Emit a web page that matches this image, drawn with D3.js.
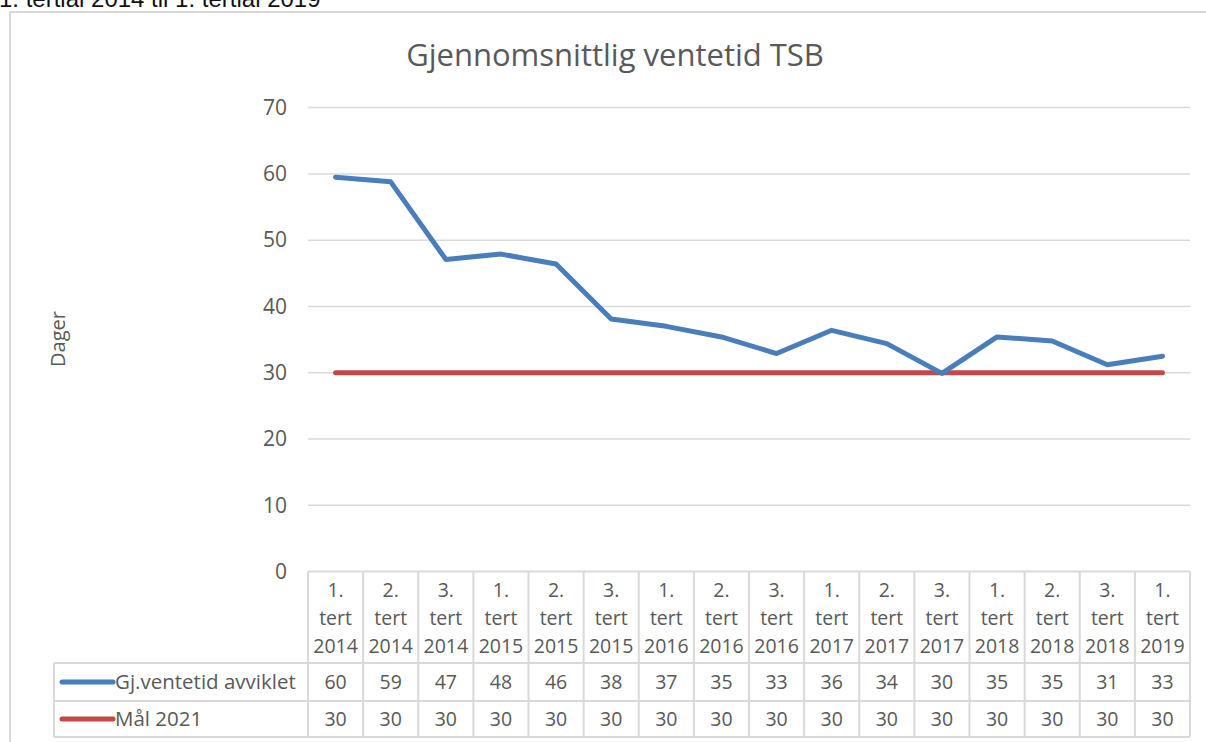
<!DOCTYPE html>
<html>
<head>
<meta charset="utf-8">
<script src="https://cdn.jsdelivr.net/npm/d3@7"></script>
<style>
  body { margin: 0; background: #fff; }
  svg { display: block; }
</style>
</head>
<body>
<script>
"use strict";

const terms = ["1.", "2.", "3.", "1.", "2.", "3.", "1.", "2.", "3.", "1.", "2.", "3.", "1.", "2.", "3.", "1."];
const years = ["2014", "2014", "2014", "2015", "2015", "2015", "2016", "2016", "2016", "2017", "2017", "2017", "2018", "2018", "2018", "2019"];
const ventetid = [59.5, 58.8, 47.1, 47.9, 46.4, 38.1, 37.0, 35.4, 32.9, 36.4, 34.4, 29.9, 35.4, 34.8, 31.2, 32.5];
const maal = [30, 30, 30, 30, 30, 30, 30, 30, 30, 30, 30, 30, 30, 30, 30, 30];
const yTicks = [0, 10, 20, 30, 40, 50, 60, 70];

const series = [
  { name: "Gj.ventetid avviklet", values: ventetid, color: "#4a7ebb" },
  { name: "Mål 2021", values: maal, color: "#be4b48" }
];

const W = 1206, H = 742;
const font = "'Open Sans', sans-serif";
const grey = "#595959";

const svg = d3.select("body").append("svg")
  .attr("width", W)
  .attr("height", H);

// caption, cut off at the top as in the source screenshot
svg.append("text")
  .attr("x", -1).attr("y", 7)
  .attr("font-family", "'Liberation Sans', Arial, sans-serif")
  .attr("font-size", 24)
  .attr("fill", "#111")
  .text("1. tertial 2014 til 1. tertial 2019");

// chart border
svg.append("rect")
  .attr("x", 10).attr("y", 12)
  .attr("width", W).attr("height", H)
  .attr("fill", "#fff")
  .attr("stroke", "#d9d9d9")
  .attr("stroke-width", 2);

svg.append("text")
  .attr("x", 615).attr("y", 66)
  .attr("text-anchor", "middle")
  .attr("font-family", font)
  .attr("font-size", 31)
  .attr("fill", grey)
  .text("Gjennomsnittlig ventetid TSB");

const plotL = 308, plotR = 1190, plotT = 107.6, plotB = 571.6;

const x = d3.scaleBand()
  .domain(d3.range(terms.length))
  .range([plotL, plotR]);

const y = d3.scaleLinear()
  .domain([0, 70])
  .range([plotB, plotT]);

// gridlines
svg.append("g")
  .selectAll("line")
  .data(yTicks.filter(d => d > 0))
  .join("line")
  .attr("x1", plotL).attr("x2", plotR)
  .attr("y1", d => y(d)).attr("y2", d => y(d))
  .attr("stroke", "#d9d9d9")
  .attr("stroke-width", 1.5);

const yAxis = d3.axisLeft(y).tickValues(yTicks).tickSize(0).tickPadding(21);
const ga = svg.append("g")
  .attr("transform", `translate(${plotL},0)`)
  .call(yAxis);
ga.select(".domain").remove();
ga.selectAll("text")
  .attr("font-family", font)
  .attr("font-size", 21)
  .attr("fill", grey);

svg.append("text")
  .attr("transform", "translate(65,339) rotate(-90)")
  .attr("text-anchor", "middle")
  .attr("font-family", font)
  .attr("font-size", 20)
  .attr("fill", grey)
  .text("Dager");

// lines
const line = d3.line()
  .x((d, i) => x(i) + x.bandwidth() / 2)
  .y(d => y(d));

svg.append("g")
  .selectAll("path")
  .data(series.slice().reverse())
  .join("path")
  .attr("d", s => line(s.values))
  .attr("fill", "none")
  .attr("stroke", s => s.color)
  .attr("stroke-width", 5)
  .attr("stroke-linecap", "round")
  .attr("stroke-linejoin", "round");

// data table
const rowTop = plotB, headBottom = 663, row1Bottom = 701, row2Bottom = 737;
const legendLeft = 54;
const tbl = svg.append("g");
const border = "#d9d9d9";

function hline(x1, x2, yy) {
  tbl.append("line").attr("x1", x1).attr("x2", x2).attr("y1", yy).attr("y2", yy)
    .attr("stroke", border).attr("stroke-width", 2);
}
function vline(xx, y1, y2) {
  tbl.append("line").attr("x1", xx).attr("x2", xx).attr("y1", y1).attr("y2", y2)
    .attr("stroke", border).attr("stroke-width", 2);
}

hline(plotL, plotR, rowTop);
hline(legendLeft, plotR, headBottom);
hline(legendLeft, plotR, row1Bottom);
hline(legendLeft, plotR, row2Bottom);
vline(legendLeft, headBottom, row2Bottom);
d3.range(terms.length + 1).forEach(i => {
  const xx = i < terms.length ? x(i) : plotR;
  vline(xx, rowTop, row2Bottom);
});

const head = tbl.append("g")
  .selectAll("text")
  .data(terms.map((t, i) => [t, "tert", years[i]]))
  .join("text")
  .attr("font-family", font)
  .attr("font-size", 19.5)
  .attr("fill", grey)
  .attr("text-anchor", "middle");
head.selectAll("tspan")
  .data((d, i) => d.map(s => ({ s: s, i: i })))
  .join("tspan")
  .attr("x", d => x(d.i) + x.bandwidth() / 2)
  .attr("y", (d, j) => 597 + j * 28)
  .text(d => d.s);

const rowMid = [(headBottom + row1Bottom) / 2, (row1Bottom + row2Bottom) / 2];

series.forEach((s, k) => {
  tbl.append("line")
    .attr("x1", 62).attr("x2", 113)
    .attr("y1", rowMid[k]).attr("y2", rowMid[k])
    .attr("stroke", s.color)
    .attr("stroke-width", 5)
    .attr("stroke-linecap", "round");
  tbl.append("text")
    .attr("x", 115).attr("y", rowMid[k] + 7)
    .attr("font-family", font)
    .attr("font-size", 20.5)
    .attr("fill", grey)
    .text(s.name);
  tbl.append("g")
    .selectAll("text")
    .data(s.values)
    .join("text")
    .attr("x", (d, i) => x(i) + x.bandwidth() / 2)
    .attr("y", rowMid[k] + 7)
    .attr("text-anchor", "middle")
    .attr("font-family", font)
    .attr("font-size", 19.5)
    .attr("fill", grey)
    .text(d => Math.round(d));
});
</script>
</body>
</html>
